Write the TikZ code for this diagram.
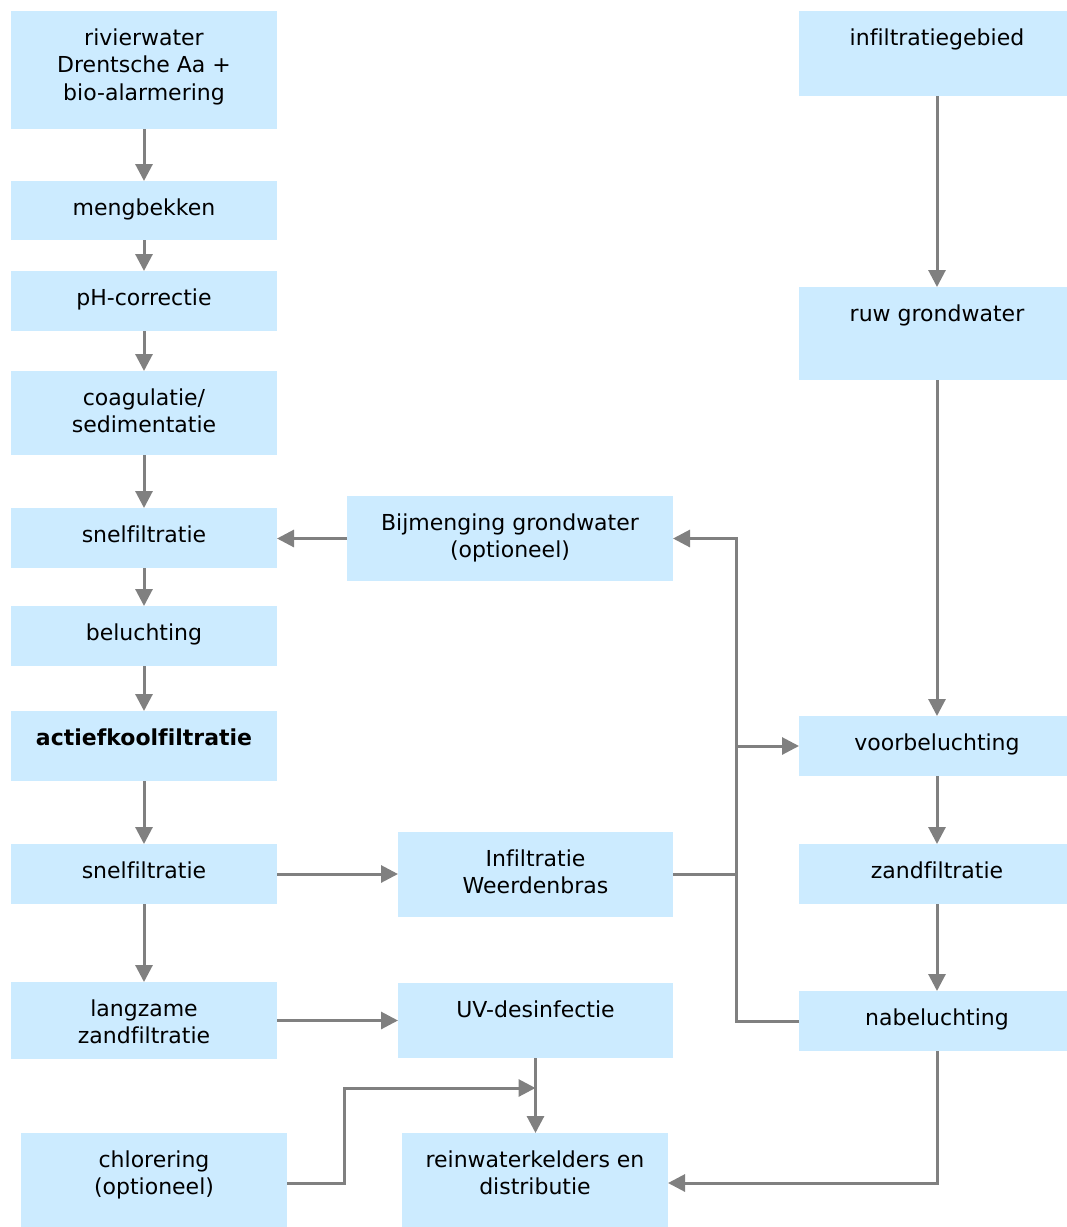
\documentclass[tikz,border=0pt]{standalone}
\usepackage{fontspec}
\setmainfont{DejaVu Sans}[Ligatures=NoCommon]
\usetikzlibrary{arrows.meta,calc}
\definecolor{boxblue}{HTML}{CCEBFF}
\definecolor{flowgray}{HTML}{808080}
\tikzset{
  pbox/.style={fill=boxblue,draw=none,inner sep=0pt,outer sep=0pt},
  ptext/.style={align=center,inner sep=0pt,outer sep=0pt,anchor=north,
    font=\fontsize{22pt}{27.5pt}\selectfont},
  flow/.style={draw=flowgray,line width=3pt},
  arr/.style={flow,-{Triangle[length=17pt,width=17pt]}}
}
% process box: name, x1, y1, x2, y2, text (text hangs from the top edge)
\newcommand\procbox[6]{%
  \node[pbox,minimum width={(#4-#2)*1pt},minimum height={(#5-#3)*1pt}]
    (#1) at ({(#2+#4)/2},{(#3+#5)/2}) {};
  \node[ptext] (#1-t) at ($(#1.north)+(0,17)$) {\rule{0pt}{17pt}#6};
}
\begin{document}
\begin{tikzpicture}[x=1pt,y=-1pt]
\useasboundingbox (0,0) rectangle (1067,1227);
\begin{scope}
\clip (0,0) rectangle (1067,1227);
% surface water line
\procbox{riv}{11}{11}{277}{129}{rivierwater\\Drentsche Aa +\\bio-alarmering}
\procbox{meng}{11}{181}{277}{240}{mengbekken}
\procbox{ph}{11}{271}{277}{331}{pH-correctie}
\procbox{coag}{11}{371}{277}{455}{coagulatie/\\sedimentatie}
\procbox{snelA}{11}{508}{277}{568}{snelfiltratie}
\procbox{bel}{11}{606}{277}{666}{beluchting}
\procbox{akf}{11}{711}{277}{781}{\bfseries actiefkoolfiltratie}
\procbox{snelB}{11}{844}{277}{904}{snelfiltratie}
\procbox{lang}{11}{982}{277}{1059}{langzame\\zandfiltratie}
\procbox{chlor}{21}{1133}{287}{1233}{chlorering\\(optioneel)}
% middle column
\procbox{bij}{347}{496}{673}{581}{Bijmenging grondwater\\(optioneel)}
\procbox{inf}{398}{832}{673}{917}{Infiltratie\\Weerdenbras}
\procbox{uv}{398}{983}{673}{1058}{UV-desinfectie}
\procbox{rein}{402}{1133}{668}{1233}{reinwaterkelders en\\distributie}
% groundwater line
\procbox{infg}{799}{11}{1075}{96}{infiltratiegebied}
\procbox{ruw}{799}{287}{1075}{380}{ruw grondwater}
\procbox{voor}{799}{716}{1075}{776}{voorbeluchting}
\procbox{zand}{799}{844}{1075}{904}{zandfiltratie}
\procbox{nab}{799}{991}{1075}{1051}{nabeluchting}
\end{scope}

% left column flow
\foreach \a/\b in {riv/meng,meng/ph,ph/coag,coag/snelA,snelA/bel,bel/akf,akf/snelB,snelB/lang}
  \draw[arr] (\a.south) -- (\a.south |- \b.north);
% right column flow
\foreach \a/\b in {infg/ruw,ruw/voor,voor/zand,zand/nab}
  \draw[arr] (\a.south) -- (\a.south |- \b.north);

% cross connections
\draw[arr] (bij.west) -- (bij.west -| snelA.east);
\draw[arr] (snelB.east) -- (snelB.east -| inf.west);
\draw[arr] (lang.east) -- (lang.east -| uv.west);
\draw[arr] (uv.south) -- (uv.south |- rein.north);

% return line from nabeluchting
\coordinate (jx) at (736,0);
\draw[arr] (nab.west) -| (jx |- bij.east) -- (bij.east);
\draw[flow] (inf.east) -- (inf.east -| jx);
\draw[arr] (jx |- voor.west) -- (voor.west);

% chlorination dosing
\coordinate (cj) at (344,1088);
\draw[arr] (chlor.east) -| (cj) -- (cj -| uv.south);
% treated groundwater to storage
\draw[arr] (nab.south) |- (rein.east);
\end{tikzpicture}
\end{document}
